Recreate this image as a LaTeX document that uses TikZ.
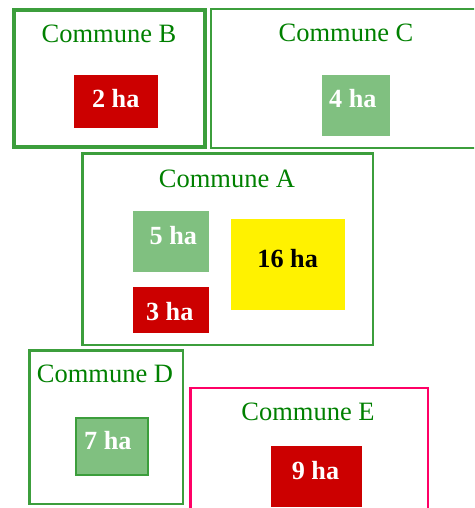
\documentclass[tikz,border=0pt]{standalone}
\usepackage{fontspec}
\setmainfont{Liberation Serif}
\definecolor{framegreen}{RGB}{60,158,60}
\definecolor{titlegreen}{RGB}{0,128,0}
\definecolor{lightgreen}{RGB}{128,192,128}
\definecolor{darkred}{RGB}{204,0,0}
\definecolor{pinkframe}{RGB}{255,0,102}
\begin{document}
\begin{tikzpicture}[x=1pt,y=-1pt,
  comm/.style={draw=framegreen, line width=2.5pt, fill=none, inner sep=0pt, rectangle},
  title/.style={text=titlegreen, font=\fontsize{26.5}{30}\selectfont, anchor=base, inner sep=0pt},
  area/.style={inner sep=0pt, rectangle},
  arealabel/.style={anchor=base, inner sep=0pt, font=\fontsize{26.2}{30}\selectfont\bfseries, text=white},
  redarea/.style={area, fill=darkred},
  greenarea/.style={area, fill=lightgreen},
  yellowarea/.style={area, fill=yellow}]
\useasboundingbox (0,0) rectangle (474,508);
\clip (0,0) rectangle (474,508);
% Commune frames
\node[comm, line width=4pt, minimum width=191pt, minimum height=137pt] (B) at (109.5,78.5) {};
\node[comm, minimum width=268.75pt, minimum height=138.5pt] (C) at (345.6,78.5) {};
\node[comm, minimum width=290.5pt, minimum height=191.5pt] (A) at (227.5,249) {};
\node[comm, minimum width=153.5pt, minimum height=153.5pt] (D) at (106,427) {};
\node[comm, draw=pinkframe, minimum width=237.5pt, minimum height=131.75pt] (E) at (309,454.1) {};
% Titles
\node[title] (tB) at (109,43) {Commune B};
\node[title] (tC) at (346,42) {Commune C};
\node[title] (tA) at (227,187) {Commune A};
\node[title] (tD) at (105,382) {Commune D};
\node[title] (tE) at (308,420) {Commune E};
% Area boxes
\node[redarea, minimum width=84pt, minimum height=53pt] (a2) at (116,101.5) {};
\node[greenarea, minimum width=68pt, minimum height=61pt] (a4) at (356,105.5) {};
\node[greenarea, minimum width=76pt, minimum height=61pt] (a5) at (171,241.5) {};
\node[redarea, minimum width=76pt, minimum height=46pt] (a3) at (171,310) {};
\node[yellowarea, minimum width=114pt, minimum height=91pt] (a16) at (288,264.5) {};
\node[greenarea, draw=framegreen, line width=2pt, minimum width=72pt, minimum height=57pt] (a7) at (112,446.5) {};
\node[redarea, minimum width=91pt, minimum height=61pt] (a9) at (316.5,476.5) {};
% Area labels
\node[arealabel] (l2) at (115.7,107.3) {2 ha};
\node[arealabel] (l4) at (352.8,107.3) {4 ha};
\node[arealabel] (l5) at (173.3,244.3) {5 ha};
\node[arealabel] (l3) at (169.7,320) {3 ha};
\node[arealabel, text=black] (l16) at (287.7,267.3) {16 ha};
\node[arealabel] (l7) at (107.8,449.3) {7 ha};
\node[arealabel] (l9) at (315.5,479) {9 ha};
\end{tikzpicture}
\end{document}
